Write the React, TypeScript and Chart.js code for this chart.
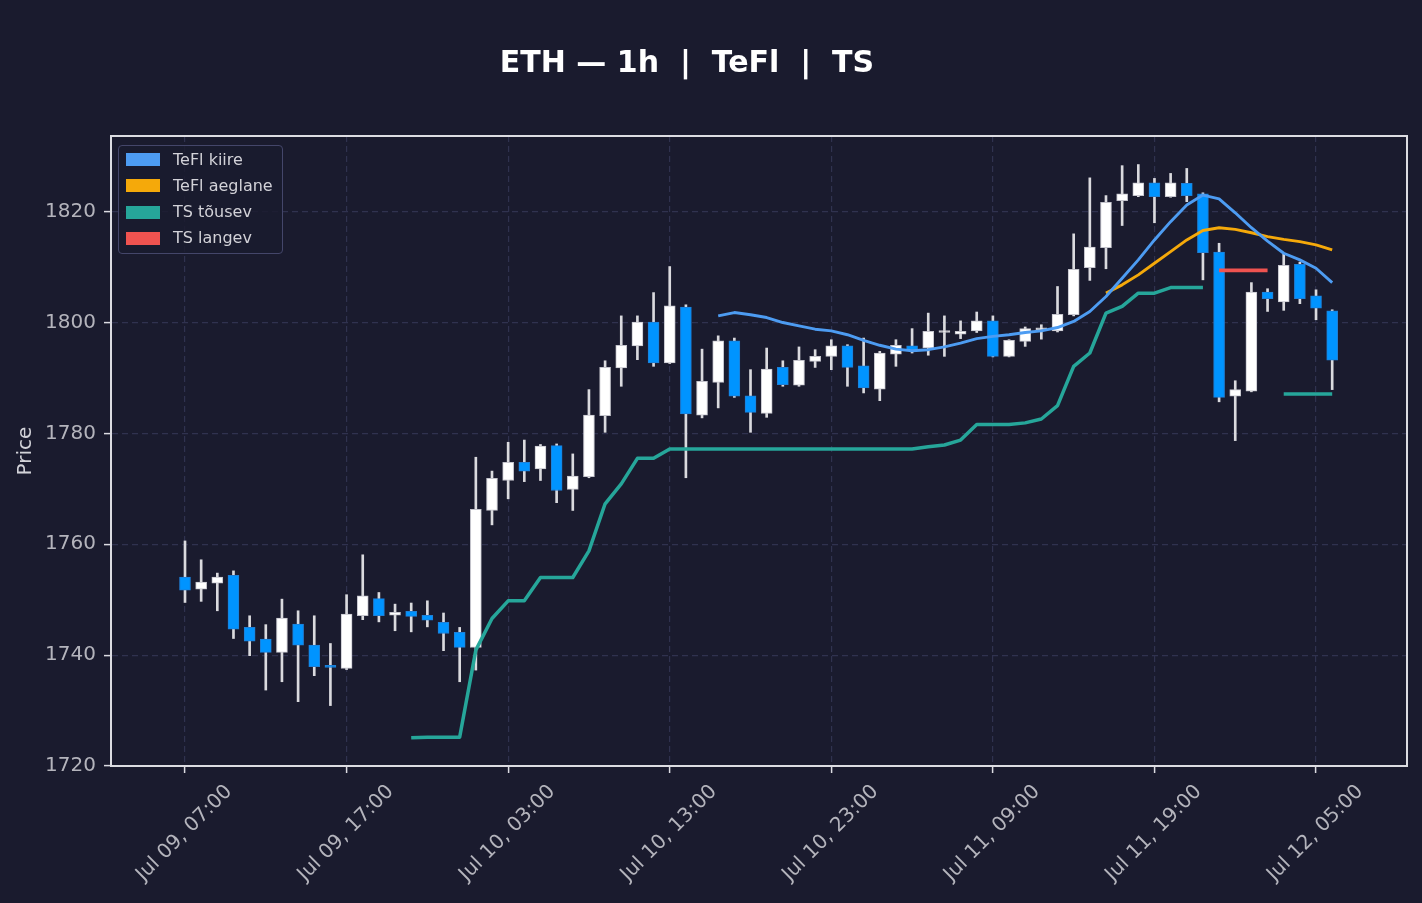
import React, { useEffect, useRef } from "react";
import { Chart, registerables } from "chart.js";

Chart.register(...registerables);

const FONT = "'DejaVu Sans', 'Liberation Sans', sans-serif";
const BG = "#1a1b2e";
const TITLE = "ETH — 1h  |  TeFl  |  TS";

// Candles (1h), index 0 = Jul 09 07:00
const opens = [
  1754.1, 1751.9, 1753.0, 1754.4, 1745.0, 1742.9, 1740.5, 1745.6, 1741.8, 1738.1,
  1737.6, 1747.1, 1750.2, 1747.2, 1747.9, 1747.2, 1745.9, 1744.1, 1741.4, 1766.1,
  1771.5, 1774.8, 1773.6, 1777.8, 1769.9, 1772.2, 1783.2, 1791.8, 1795.8, 1800.1,
  1792.7, 1802.8, 1783.3, 1789.2, 1796.7, 1786.8, 1783.6, 1791.9, 1788.7, 1793.0,
  1793.9, 1795.8, 1792.2, 1788.0, 1794.3, 1795.8, 1795.4, 1798.2, 1797.9, 1798.5,
  1800.3, 1793.9, 1796.6, 1798.7, 1798.5, 1801.4, 1809.9, 1813.5, 1822.0, 1822.9,
  1825.2, 1822.7, 1825.1, 1823.2, 1812.7, 1786.7, 1787.6, 1805.5, 1803.7, 1810.5,
  1804.8, 1802.1,
];
const highs = [
  1760.6, 1757.2, 1754.8, 1755.2, 1747.1, 1745.5, 1750.1, 1748.0, 1747.1, 1742.1,
  1750.9, 1758.1, 1751.3, 1749.2, 1749.4, 1749.8, 1747.6, 1745.0, 1775.7, 1773.2,
  1778.4, 1778.8, 1778.0, 1778.1, 1776.3, 1787.9, 1793.1, 1801.2, 1801.2, 1805.4,
  1810.1, 1803.2, 1795.2, 1797.6, 1797.2, 1791.5, 1795.4, 1793.1, 1795.6, 1795.1,
  1796.9, 1796.0, 1797.2, 1794.8, 1796.9, 1798.9, 1801.7, 1801.2, 1800.3, 1801.9,
  1801.2, 1796.9, 1799.2, 1799.6, 1806.5, 1816.0, 1826.1, 1822.9, 1828.3, 1828.5,
  1826.0, 1826.9, 1827.8, 1823.4, 1814.3, 1789.5, 1807.2, 1806.1, 1812.5, 1810.9,
  1805.9, 1802.3,
];
const lows = [
  1749.5, 1749.7, 1748.0, 1743.0, 1739.9, 1733.7, 1735.2, 1731.6, 1736.3, 1730.9,
  1737.4, 1746.4, 1746.0, 1744.4, 1744.2, 1745.1, 1740.8, 1735.2, 1737.3, 1763.5,
  1768.2, 1771.3, 1771.5, 1767.5, 1766.1, 1772.0, 1780.2, 1788.5, 1793.3, 1792.1,
  1792.6, 1772.0, 1782.8, 1784.6, 1786.5, 1780.2, 1782.9, 1788.5, 1788.5, 1791.9,
  1791.5, 1788.5, 1787.3, 1785.9, 1792.1, 1794.5, 1794.1, 1793.9, 1797.1, 1798.2,
  1793.8, 1793.8, 1795.7, 1797.0, 1798.3, 1801.2, 1807.6, 1809.7, 1817.5, 1822.7,
  1818.0, 1822.6, 1821.8, 1807.7, 1785.7, 1778.7, 1787.5, 1802.0, 1802.2, 1803.4,
  1800.5, 1787.9,
];
const closes = [
  1751.7, 1753.2, 1754.1, 1744.7, 1742.5, 1740.5, 1746.7, 1741.8, 1737.9, 1737.8,
  1747.4, 1750.7, 1747.1, 1747.7, 1747.0, 1746.3, 1743.9, 1741.4, 1766.3, 1771.9,
  1774.8, 1773.2, 1777.7, 1769.7, 1772.3, 1783.3, 1791.9, 1795.9, 1800.1, 1792.7,
  1803.0, 1783.5, 1789.4, 1796.7, 1786.7, 1783.8, 1791.6, 1788.8, 1793.2, 1793.9,
  1795.8, 1791.9, 1788.2, 1794.5, 1795.9, 1795.1, 1798.4, 1798.5, 1798.4, 1800.3,
  1793.9, 1796.8, 1798.9, 1799.0, 1801.5, 1809.6, 1813.6, 1821.7, 1823.2, 1825.2,
  1822.7, 1825.2, 1822.9, 1812.6, 1786.5, 1787.9, 1805.5, 1804.3, 1810.3, 1804.3,
  1802.6, 1793.2,
];

// Indicator lines (start index + values; null = gap)
const teflFastStart = 33;
const teflFast = [
  1801.2, 1801.8, 1801.4, 1800.9, 1800.0, 1799.4, 1798.8, 1798.5, 1797.8, 1796.8,
  1795.9, 1795.2, 1794.9, 1795.1, 1795.6, 1796.3, 1797.1, 1797.5, 1797.8, 1798.2,
  1798.5, 1799.1, 1800.2, 1802.0, 1804.7, 1808.0, 1811.3, 1814.9, 1818.2, 1821.2,
  1823.0, 1822.3, 1819.8, 1817.1, 1814.7, 1812.5, 1811.3, 1809.8, 1807.2,
];
const teflSlowStart = 57;
const teflSlow = [
  1805.3, 1806.8, 1808.6, 1810.7, 1812.8, 1814.9, 1816.6, 1817.1, 1816.8, 1816.2,
  1815.5, 1815.0, 1814.6, 1814.0, 1813.1,
];
const tsUpStart = 14;
const tsUp = [
  1725.1, 1725.2, 1725.2, 1725.2, 1740.9, 1746.6, 1749.8, 1749.8, 1754.0, 1754.0,
  1754.0, 1758.8, 1767.3, 1770.9, 1775.5, 1775.5, 1777.2, 1777.2, 1777.2, 1777.2,
  1777.2, 1777.2, 1777.2, 1777.2, 1777.2, 1777.2, 1777.2, 1777.2, 1777.2, 1777.2,
  1777.2, 1777.2, 1777.6, 1777.9, 1778.8, 1781.6, 1781.6, 1781.6, 1781.9, 1782.6,
  1785.0, 1792.1, 1794.5, 1801.7, 1802.9, 1805.3, 1805.3, 1806.3, 1806.3, 1806.3,
  null, null, null, null, 1787.1, 1787.1, 1787.1, 1787.1,
];
const tsDownStart = 64;
const tsDown = [1809.4, 1809.4, 1809.4, 1809.4];

const xTickValues = [0, 10, 20, 30, 40, 50, 60, 70];
const xTickLabels = [
  "Jul 09, 07:00", "Jul 09, 17:00", "Jul 10, 03:00", "Jul 10, 13:00",
  "Jul 10, 23:00", "Jul 11, 09:00", "Jul 11, 19:00", "Jul 12, 05:00",
];
const yTickValues = [1720, 1740, 1760, 1780, 1800, 1820];

const legendItems = [
  { label: "TeFl kiire", color: "#4d9cf2" },
  { label: "TeFl aeglane", color: "#f5a90a" },
  { label: "TS tõusev", color: "#26a69a" },
  { label: "TS langev", color: "#ef5350" },
];

const UP = "#ffffff";
const DOWN = "#0094ff";
const GRID = "#30324f";
const AXIS = "#dcdce2";
const TICK_TXT = "#b4b4bc";

const toPoints = (start: number, vals: (number | null)[]) =>
  vals.map((v, i) => ({ x: start + i, y: v }));

export default function App() {
  const ref = useRef<HTMLCanvasElement | null>(null);

  useEffect(() => {
    const canvas = ref.current;
    if (!canvas) return;
    const idx = opens.map((_, i) => i);
    const isUp = (i: number) => closes[i] >= opens[i];

    const bgPlugin = {
      id: "bg",
      beforeDraw(chart: any) {
        const { ctx } = chart;
        ctx.save();
        ctx.fillStyle = BG;
        ctx.fillRect(0, 0, chart.width, chart.height);
        ctx.restore();
      },
      afterDraw(chart: any) {
        const { ctx, chartArea } = chart;
        ctx.save();
        ctx.strokeStyle = AXIS;
        ctx.lineWidth = 2;
        ctx.strokeRect(chartArea.left, chartArea.top, chartArea.right - chartArea.left, chartArea.bottom - chartArea.top);
        ctx.fillStyle = "#ffffff";
        ctx.font = `bold 30px ${FONT}`;
        ctx.textAlign = "center";
        ctx.textBaseline = "alphabetic";
        ctx.fillText(TITLE, 687, 72);
        ctx.restore();
      },
    };

    const lineBase = {
      type: "line" as const,
      pointRadius: 0,
      pointHoverRadius: 0,
      tension: 0,
      fill: false,
      spanGaps: false,
      order: 1,
      borderCapStyle: "butt" as const,
      borderJoinStyle: "round" as const,
    };

    const chart = new Chart(canvas, {
      type: "bar",
      data: {
        datasets: [
          {
            type: "bar",
            label: "wick",
            data: idx.map((i) => ({ x: i, y: [lows[i], highs[i]] })) as any,
            backgroundColor: "#dadade",
            barThickness: 2,
            grouped: false,
            borderWidth: 0,
            order: 3,
          } as any,
          {
            type: "bar",
            label: "body",
            data: idx.map((i) => ({ x: i, y: [opens[i], closes[i]] })) as any,
            backgroundColor: idx.map((i) => (isUp(i) ? UP : DOWN)),
            borderColor: idx.map((i) => (isUp(i) ? "#c4c4cc" : "#1f7fd6")),
            borderWidth: 1,
            borderSkipped: false,
            barThickness: 11,
            minBarLength: 2,
            grouped: false,
            order: 2,
          } as any,
          { ...lineBase, label: "TeFl kiire", data: toPoints(teflFastStart, teflFast), borderColor: "#4d9cf2", borderWidth: 2.9 } as any,
          { ...lineBase, label: "TeFl aeglane", data: toPoints(teflSlowStart, teflSlow), borderColor: "#f5a90a", borderWidth: 2.9 } as any,
          { ...lineBase, label: "TS tõusev", data: toPoints(tsUpStart, tsUp), borderColor: "#26a69a", borderWidth: 3.5 } as any,
          { ...lineBase, label: "TS langev", data: toPoints(tsDownStart, tsDown), borderColor: "#ef5350", borderWidth: 3.8 } as any,
        ],
      },
      options: {
        responsive: false,
        animation: false,
        devicePixelRatio: 1,
        layout: { padding: { left: 0, right: 15, top: 136, bottom: 0 } },
        plugins: {
          legend: { display: false },
          title: { display: false },
          tooltip: { enabled: false },
        },
        scales: {
          x: {
            type: "linear",
            min: -4.58,
            max: 75.63,
            offset: false,
            afterBuildTicks: (s: any) => {
              s.ticks = xTickValues.map((v) => ({ value: v }));
            },
            afterFit: (s: any) => {
              s.height = 137;
            },
            ticks: {
              callback: (_v: any, i: number) => xTickLabels[i] ?? "",
              autoSkip: false,
              minRotation: 45,
              maxRotation: 45,
              labelOffset: 44,
              padding: 7,
              color: TICK_TXT,
              font: { family: FONT, size: 20 },
            },
            grid: {
              offset: false,
              color: GRID,
              lineWidth: 1.2,
              tickLength: 7,
              tickColor: AXIS,
              tickWidth: 1.5,
            },
            border: { color: AXIS, width: 2, dash: [6, 4] },
          },
          y: {
            type: "linear",
            min: 1720,
            max: 1833.65,
            afterBuildTicks: (s: any) => {
              s.ticks = yTickValues.map((v) => ({ value: v }));
            },
            afterFit: (s: any) => {
              s.width = 111;
            },
            ticks: {
              callback: (v: any) => String(v),
              padding: 8,
              color: TICK_TXT,
              font: { family: FONT, size: 20 },
            },
            grid: {
              offset: false,
              color: GRID,
              lineWidth: 1.2,
              tickLength: 7,
              tickColor: AXIS,
              tickWidth: 1.5,
            },
            border: { color: AXIS, width: 2, dash: [6, 4] },
            title: {
              display: true,
              text: "Price",
              color: "#d2d2d8",
              font: { family: FONT, size: 20 },
              padding: { top: 14, bottom: 0 },
            },
          },
        },
      } as any,
      plugins: [bgPlugin],
    });

    return () => chart.destroy();
  }, []);

  return (
    <div style={{ position: "fixed", left: 0, top: 0, width: 1422, height: 903, background: BG, overflow: "hidden" }}>
      <canvas ref={ref} width={1422} height={903} style={{ display: "block", width: 1422, height: 903 }} />
      <div
        style={{
          position: "absolute",
          left: 118,
          top: 145,
          width: 165,
          height: 109,
          boxSizing: "border-box",
          border: "1px solid #44466a",
          borderRadius: 4,
          background: "rgba(26,27,46,0.85)",
          fontFamily: FONT,
        }}
      >
        {legendItems.map((it, k) => {
          const cy = 14.7 + k * 26.2;
          return (
            <React.Fragment key={it.label}>
              <div style={{ position: "absolute", left: 7, top: cy - 6.5 - 1, width: 34, height: 13, background: it.color }} />
              <div
                style={{
                  position: "absolute",
                  left: 54,
                  top: cy - 8 - 1,
                  fontSize: 16,
                  lineHeight: "16px",
                  color: "#d2d2d8",
                  whiteSpace: "pre",
                }}
              >
                {it.label}
              </div>
            </React.Fragment>
          );
        })}
      </div>
    </div>
  );
}
